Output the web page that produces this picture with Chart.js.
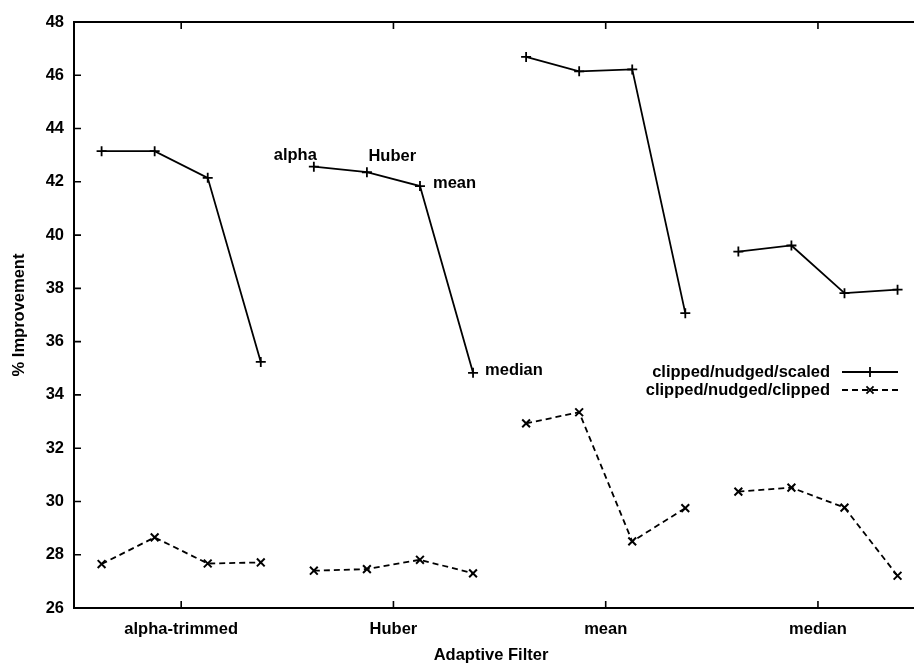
<!DOCTYPE html>
<html>
<head>
<meta charset="utf-8">
<title>% Improvement by Adaptive Filter</title>
<script src="https://cdn.jsdelivr.net/npm/chart.js@4/dist/chart.umd.min.js"></script>
<style>
  html, body { margin: 0; padding: 0; background: #ffffff; }
  canvas { display: block; }
</style>
</head>
<body>
<canvas id="chart" width="914" height="665"></canvas>
<script>
// Adaptive filter groups shown along the x axis
const filterGroups = ['alpha-trimmed', 'Huber', 'mean', 'median'];
// Second-stage filter inside each group (order of the four points)
const innerFilters = ['alpha', 'Huber', 'mean', 'median'];

// % improvement, clipped/nudged/scaled (4 points per group)
const scaledAlpha  = [43.15, 43.15, 42.15, 35.24];
const scaledHuber  = [42.57, 42.36, 41.84, 34.83];
const scaledMean   = [46.69, 46.15, 46.22, 37.07];
const scaledMedian = [39.38, 39.61, 37.82, 37.95];

// % improvement, clipped/nudged/clipped (4 points per group)
const clippedAlpha  = [27.65, 28.65, 27.67, 27.71];
const clippedHuber  = [27.40, 27.46, 27.81, 27.30];
const clippedMean   = [32.93, 33.35, 28.50, 29.75];
const clippedMedian = [30.37, 30.52, 29.77, 27.21];

const seriesNames = ['clipped/nudged/scaled', 'clipped/nudged/clipped'];
const yTickValues = [26, 28, 30, 32, 34, 36, 38, 40, 42, 44, 46, 48];

const FONT = '"Liberation Sans", Arial, Helvetica, sans-serif';
const INK = '#000000';

// Lay the groups side by side; a null point breaks the line between groups
function buildSeries(groups) {
  const pts = [];
  groups.forEach((vals, g) => {
    vals.forEach((v, j) => pts.push({ x: g * 4 + j, y: v }));
    if (g < groups.length - 1) pts.push({ x: g * 4 + 3.5, y: null });
  });
  return pts;
}

const scaledData  = buildSeries([scaledAlpha, scaledHuber, scaledMean, scaledMedian]);
const clippedData = buildSeries([clippedAlpha, clippedHuber, clippedMean, clippedMedian]);

// Axes frame with inward tick marks, axis titles, key and point labels
const framePlugin = {
  id: 'frame',
  afterDraw(chart) {
    const { ctx, chartArea: a, scales } = chart;
    const xs = scales.x, ys = scales.y;
    ctx.save();
    ctx.strokeStyle = INK;
    ctx.lineWidth = 2;
    ctx.lineCap = 'butt';
    ctx.beginPath();
    ctx.moveTo(a.right, a.top); ctx.lineTo(a.left, a.top);
    ctx.lineTo(a.left, a.bottom); ctx.lineTo(a.right, a.bottom);
    ctx.stroke();

    ctx.lineWidth = 1.6;
    ctx.beginPath();
    yTickValues.forEach(v => {
      const y = ys.getPixelForValue(v);
      ctx.moveTo(a.left, y); ctx.lineTo(a.left + 7, y);
    });
    xs.ticks.forEach(t => {
      const x = xs.getPixelForValue(t.value);
      ctx.moveTo(x, a.top); ctx.lineTo(x, a.top + 7);
      ctx.moveTo(x, a.bottom); ctx.lineTo(x, a.bottom - 7);
    });
    ctx.stroke();

    // axis titles
    ctx.fillStyle = INK;
    ctx.font = 'bold 16.5px ' + FONT;
    ctx.textAlign = 'center';
    ctx.textBaseline = 'middle';
    ctx.fillText('Adaptive Filter', (a.left + a.right) / 2 - 3, 655);
    ctx.save();
    ctx.translate(19, (a.top + a.bottom) / 2);
    ctx.rotate(-Math.PI / 2);
    ctx.fillText('% Improvement', 0, 0);
    ctx.restore();

    // labels naming the four inner filters, beside the Huber group
    const meta = chart.getDatasetMeta(0);
    const huberPts = meta.data.filter(p => !p.skip).slice(4, 8);
    const offsets = [
      { dx: 3, dy: -11, align: 'right' },
      { dx: 1.5, dy: -16, align: 'left' },
      { dx: 13, dy: -3, align: 'left' },
      { dx: 12, dy: -2, align: 'left' }
    ];
    huberPts.forEach((p, i) => {
      ctx.textAlign = offsets[i].align;
      ctx.fillText(innerFilters[i], p.x + offsets[i].dx, p.y + offsets[i].dy);
    });

    // key
    const keyRows = [
      { y: 372, dash: [], style: 'cross' },
      { y: 390, dash: [6, 4], style: 'crossRot' }
    ];
    keyRows.forEach((r, i) => {
      ctx.textAlign = 'right';
      ctx.fillText(seriesNames[i], 830, r.y);
      ctx.lineWidth = 1.8;
      ctx.setLineDash(r.dash);
      ctx.beginPath();
      ctx.moveTo(842, r.y); ctx.lineTo(898, r.y);
      ctx.stroke();
      ctx.setLineDash([]);
      Chart.helpers.drawPoint(ctx, { pointStyle: r.style, radius: 5, borderWidth: 1.8, rotation: 0 }, 870, r.y);
    });
    ctx.restore();
  }
};

new Chart(document.getElementById('chart'), {
  type: 'line',
  data: {
    datasets: [
      {
        label: seriesNames[0],
        data: scaledData,
        borderColor: INK,
        backgroundColor: INK,
        borderWidth: 1.8,
        pointStyle: 'cross',
        pointRadius: 5,
        pointBorderWidth: 1.8,
        pointBorderColor: INK,
        fill: false,
        tension: 0,
        spanGaps: false
      },
      {
        label: seriesNames[1],
        data: clippedData,
        borderColor: INK,
        backgroundColor: INK,
        borderWidth: 1.8,
        borderDash: [6, 4],
        pointStyle: 'crossRot',
        pointRadius: 5.5,
        pointBorderWidth: 2,
        pointBorderColor: INK,
        fill: false,
        tension: 0,
        spanGaps: false
      }
    ]
  },
  options: {
    responsive: false,
    devicePixelRatio: 1,
    animation: false,
    clip: false,
    layout: { autoPadding: false, padding: { top: 22, right: 0, bottom: 0, left: 0 } },
    plugins: {
      legend: { display: false },
      tooltip: { enabled: false },
      title: { display: false }
    },
    scales: {
      x: {
        type: 'linear',
        bounds: 'data',
        min: -0.52,
        max: 15.31,
        grid: { display: false, drawTicks: false },
        border: { display: false },
        afterBuildTicks(scale) {
          scale.ticks = filterGroups.map((_, g) => ({ value: g * 4 + 1.5 }));
        },
        afterFit(scale) { scale.height = 57; },
        ticks: {
          autoSkip: false,
          maxRotation: 0,
          padding: 12,
          color: INK,
          font: { family: FONT, size: 16.5, weight: 'bold' },
          callback: (v) => filterGroups[Math.round((v - 1.5) / 4)]
        }
      },
      y: {
        type: 'linear',
        min: 26,
        max: 48,
        grid: { display: false, drawTicks: false },
        border: { display: false },
        afterFit(scale) { scale.width = 74; },
        afterBuildTicks(scale) {
          scale.ticks = yTickValues.map(v => ({ value: v }));
        },
        ticks: {
          padding: 10,
          color: INK,
          font: { family: FONT, size: 16.5, weight: 'bold' }
        }
      }
    }
  },
  plugins: [framePlugin]
});
</script>
</body>
</html>
